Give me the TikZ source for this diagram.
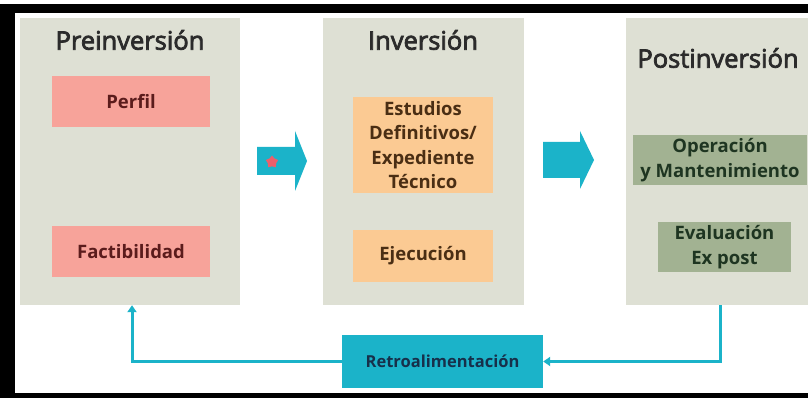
\documentclass[tikz,border=0pt]{standalone}
\usepackage{fontspec}
\setmainfont{Open Sans}
\newfontfamily\ttlfont[FakeBold=3]{Open Sans}
\usetikzlibrary{arrows.meta,shapes.geometric}
\definecolor{panelgray}{HTML}{DEE0D4}
\definecolor{pinkbox}{HTML}{F7A39A}
\definecolor{orangebox}{HTML}{FBCA93}
\definecolor{greenbox}{HTML}{A2B292}
\definecolor{cyanarr}{HTML}{1BB3C9}
\definecolor{starred}{HTML}{EC5F6B}
\definecolor{titletext}{HTML}{2B2B2B}
\definecolor{pinktext}{HTML}{5B1C1C}
\definecolor{orangetext}{HTML}{4A2E14}
\definecolor{greentext}{HTML}{1E3521}
\definecolor{retrotext}{HTML}{17304A}
\begin{document}
\begin{tikzpicture}
           [x=1pt,y=-1pt,
            panel/.style={fill=panelgray,inner sep=0pt,minimum width=#1,minimum height=287pt},
            ttl/.style={font=\ttlfont\fontsize{25.5}{28}\selectfont,text=titletext},
            item/.style={font=\fontsize{18.5}{24.5}\selectfont\bfseries,align=center,inner sep=0pt},
            fb/.style={draw=cyanarr,line width=3pt,-{Triangle[width=9pt,length=7pt]}}]
           \clip (0,0) rectangle (808,398);
           \fill[black] (0,4) rectangle (808,398);
           \fill[white] (15,13) rectangle (808,393);

           \node[panel=220pt] (pre) at (130,161.5) {};
           \node[panel=201pt] (inv) at (423.5,161.5) {};
           \node[panel=200pt] (post) at (726,161.5) {};

           \node[ttl] (preT) at (130,40) {Preinversión};
           \node[ttl] (invT) at (423,40) {Inversión};
           \node[ttl] (postT) at (718,58) {Postinversión};

           \node[item,fill=pinkbox,text=pinktext,minimum width=158pt,minimum height=51pt]
           (perfil) at (131,101.5) {Perfil};
           \node[item,fill=pinkbox,text=pinktext,minimum width=158pt,minimum height=51pt]
           (factib) at (131,251.5) {Factibilidad};

           \node[item,fill=orangebox,text=orangetext,minimum width=140pt,minimum height=96pt]
           (estudios) at (423,145) {Estudios\\Definitivos/\\Expediente\\Técnico};
           \node[item,fill=orangebox,text=orangetext,minimum width=140pt,minimum height=52pt]
           (ejec) at (423,256) {Ejecución};

           \node[item,fill=greenbox,text=greentext,minimum width=174pt,minimum height=50pt]
           (opera) at (720,160) {Operación\\y Mantenimiento};
           \node[item,fill=greenbox,text=greentext,minimum width=133pt,minimum height=50pt]
           (evalua) at (724.5,247) {Evaluación\\Ex post};

           \node[item,fill=cyanarr,text=retrotext,font=\fontsize{16.5}{20}\selectfont\bfseries,
           minimum width=201pt,minimum height=53pt] (retro) at (442.5,361.5) {Retroalimentación};

           \fill[cyanarr] (257,147) -- (295,147) -- (295,131) -- (307,161)
           -- (295,191) -- (295,175) -- (257,175) -- cycle;
           \node[star,star points=5,fill=starred,minimum size=13pt,inner sep=0pt]
           (estrella) at (272,162) {};
           \fill[cyanarr] (543,142) -- (580,142) -- (580,131) -- (594,160)
           -- (580,189) -- (580,178) -- (543,178) -- cycle;

           \draw[fb] (opera.south |- post.south) |- (retro.east);
           \draw[fb] (retro.west) -| ([xshift=2pt]pre.south);
         \end{tikzpicture}
\end{document}
